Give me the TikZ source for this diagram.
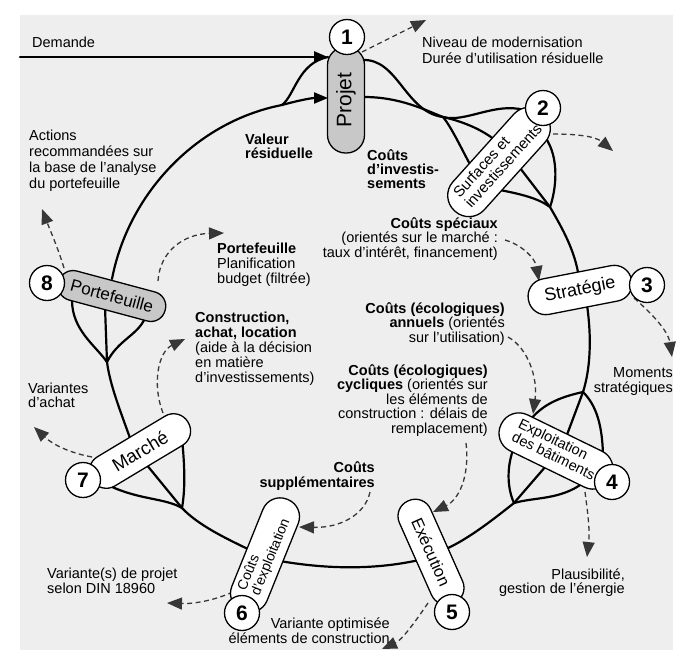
\documentclass[tikz,border=0pt]{standalone}
\usepackage{fontspec}
\setmainfont{Liberation Sans}
\usetikzlibrary{arrows.meta}
\pgfdeclarelayer{back}
\pgfdeclarelayer{lines}
\pgfsetlayers{back,lines,main}
\definecolor{bgc}{RGB}{238,238,238}
\definecolor{boxg}{RGB}{200,200,200}
\definecolor{dshc}{RGB}{55,55,55}
\newcommand{\twolines}[2]{\begin{tabular}{@{}l@{}}#1\\#2\end{tabular}}
\begin{document}
\begin{tikzpicture}[x=1pt,y=-1pt,
  trunk/.style={line width=2.2pt, black, line cap=round},
  arrowtip/.style={-{Triangle[length=14pt,width=11pt]}},
  dsh/.style={line width=1.3pt, dshc, dash pattern=on 5pt off 3.5pt, -{Triangle[length=15pt,width=12pt]}},
  lbl/.style={draw, line width=1.3pt, fill=white, rectangle, inner sep=1pt},
  numc/.style={draw, circle, line width=1.3pt, fill=white, minimum size=35pt, inner sep=0pt, font=\fontsize{21}{21}\selectfont\bfseries},
  txt/.style={inner sep=0pt, font=\fontsize{14.5}{15}\selectfont},
]
\useasboundingbox (0,0) rectangle (687,657);
\begin{pgfonlayer}{back}
\fill[bgc] (20,15) rectangle (673,650);
\end{pgfonlayer}

% ---------- boxes and numbered circles
\node[lbl, fill=boxg, rotate=90, minimum width=106pt, minimum height=37pt, rounded corners=18pt, font=\fontsize{21}{21}\selectfont] (projet) at (346,100) {Projet};
\node[numc] (n1) at (347,37) {1};
\node[lbl, rotate=48, minimum width=132pt, minimum height=42pt, rounded corners=20.5pt, inner sep=0pt, font=\fontsize{15}{15.5}\selectfont] (surf) at (499,162) {\twolines{Surfaces et}{investissements}};
\node[numc] (n2) at (543,108) {2};
\node[lbl, rotate=11, minimum width=105pt, minimum height=36pt, rounded corners=17.5pt, font=\fontsize{18}{18}\selectfont] (strat) at (580,290) {Stratégie};
\node[numc] (n3) at (647,285) {3};
\node[lbl, rotate=-26, minimum width=122pt, minimum height=40pt, rounded corners=19.5pt, inner sep=0pt, font=\fontsize{14.5}{15}\selectfont] (expl) at (556,451) {\twolines{Exploitation}{des bâtiments}};
\node[numc] (n4) at (612,482) {4};
\node[lbl, rotate=-66, minimum width=112pt, minimum height=34pt, rounded corners=16.5pt, font=\fontsize{16.5}{16.5}\selectfont] (exec) at (431,552) {Exécution};
\node[numc] (n5) at (452,612) {5};
\node[lbl, rotate=68, minimum width=120pt, minimum height=38pt, rounded corners=18.5pt, inner sep=0pt, font=\fontsize{14}{14.5}\selectfont] (cexp) at (265,555) {\twolines{Coûts}{d'exploitation}};
\node[numc] (n6) at (242,613) {6};
\node[lbl, rotate=31, minimum width=112pt, minimum height=34pt, rounded corners=16.5pt, font=\fontsize{18.5}{18.5}\selectfont] (marche) at (140,451) {Marché};
\node[numc] (n7) at (83,480) {7};
\node[lbl, fill=boxg, rotate=-15, minimum width=110pt, minimum height=30pt, rounded corners=14.5pt, font=\fontsize{17}{17}\selectfont] (portef) at (112,296) {Portefeuille};
\node[numc] (n8) at (47,283) {8};

% ---------- texts (base anchor = baseline of the last line)
\node[txt, anchor=base west] (tdem) at (32,47) {Demande};
\node[txt, anchor=base west, align=left, font=\fontsize{14.5}{16}\selectfont] (tniv) at (422,63) {Niveau de modernisation\\Durée d'utilisation résiduelle};
\node[txt, anchor=base west, align=left, font=\fontsize{14.5}{16}\selectfont] (tact) at (29,188) {Actions\\recommandées sur\\la base de l'analyse\\du portefeuille};
\node[txt, anchor=base west, align=left, font=\fontsize{14.5}{14.5}\selectfont\bfseries] (tval) at (245,158.5) {Valeur\\résiduelle};
\node[txt, anchor=base west, align=left, font=\fontsize{14.5}{14}\selectfont\bfseries] (tinv) at (367,188) {Coûts\\d'investis-\\sements};
\node[txt, anchor=base east, align=right, font=\fontsize{14.5}{14.5}\selectfont] (tspe) at (498,257) {\textbf{Coûts spéciaux}\\(orientés sur le marché :\\taux d'intérêt, financement)};
\node[txt, anchor=base east, align=right, font=\fontsize{14.5}{14.5}\selectfont] (tann) at (505,342) {\textbf{Coûts (écologiques)}\\\textbf{annuels} (orientés\\sur l'utilisation)};
\node[txt, anchor=base east, align=right, font=\fontsize{14.5}{14.5}\selectfont] (tcyc) at (488,433) {\textbf{Coûts (écologiques)}\\\textbf{cycliques} (orientés sur\\les éléments de\\construction : délais de\\remplacement)};
\node[txt, anchor=base east, align=right, font=\fontsize{14.5}{15}\selectfont\bfseries] (tsup) at (375,487) {Coûts\\supplémentaires};
\node[txt, anchor=base west, align=left] (tpor) at (217,283) {\textbf{Portefeuille}\\Planification\\budget (filtrée)};
\node[txt, anchor=base west, align=left] (tcon) at (195,382) {\textbf{Construction,}\\\textbf{achat, location}\\(aide à la décision\\en matière\\d'investissements)};
\node[txt, anchor=base west, align=left, font=\fontsize{14.5}{14}\selectfont] (tvar) at (28,407) {Variantes\\d'achat};
\node[txt, anchor=base east, align=right] (tmom) at (673,392) {Moments\\stratégiques};
\node[txt, anchor=base east, align=right, font=\fontsize{14.5}{14}\selectfont] (tpla) at (625,593) {Plausibilité,\\gestion de l'énergie};
\node[txt, anchor=base west, align=left] (tdin) at (47,593) {Variante(s) de projet\\selon DIN 18960};
\node[txt, anchor=base east, align=right, font=\fontsize{14.5}{13.5}\selectfont] (topt) at (390,643) {Variante optimisée\\éléments de construction};

% ---------- connector end points
\coordinate (dem) at (20,57);
\coordinate (pjL1) at (328,57);
\coordinate (pjL2) at (328,98);
\coordinate (pjR1) at (362,60);
\coordinate (pjR2) at (364,97);
\coordinate (a8top) at (112,279);
\coordinate (jA) at (282,105);
\coordinate (xr) at (443,117);
\coordinate (b2a) at (495,140);
\coordinate (b2b) at (524,110);
\coordinate (b2c) at (472,168);
\coordinate (e2a) at (545,137);
\coordinate (e2b) at (520,168);
\coordinate (e2c) at (500,190);
\coordinate (jB) at (550,207);
\coordinate (s3top) at (579,278);
\coordinate (s3bot) at (587,305);
\coordinate (jC) at (583,392);
\coordinate (e4a) at (531,419);
\coordinate (e4b) at (565,440);
\coordinate (e4c) at (603,460);
\coordinate (e4d) at (513,450);
\coordinate (e4e) at (546,466);
\coordinate (e4f) at (583,483);
\coordinate (jD) at (514,503);
\coordinate (e5a) at (446,549);
\coordinate (e5b) at (419,560);
\coordinate (e6a) at (280,561);
\coordinate (e6b) at (250,550);
\coordinate (jE) at (182,508);
\coordinate (e7a) at (182,438);
\coordinate (e7b) at (146,464);
\coordinate (e7c) at (110,486);
\coordinate (e7d) at (130,438);
\coordinate (jF) at (107,362);
\coordinate (e8a) at (72,300);
\coordinate (e8b) at (105,307);
\coordinate (e8c) at (145,318);
% dashed ends
\coordinate (d1s) at (362,52);   \coordinate (d1e) at (426,20);
\coordinate (d2s) at (553,134);  \coordinate (d2e) at (613,151);
\coordinate (d3s) at (634,298);  \coordinate (d3e) at (672,357);
\coordinate (d4s) at (585,492);  \coordinate (d4e) at (587,557);
\coordinate (d5s) at (428,603);  \coordinate (d5e) at (382,649);
\coordinate (d6s) at (233,592);  \coordinate (d6e) at (167,603);
\coordinate (d7s) at (92,457);   \coordinate (d7e) at (34,427);
\coordinate (d8s) at (64,268);   \coordinate (d8e) at (42,209);
\coordinate (d9s) at (158,281);  \coordinate (d9e) at (224,233);
\coordinate (d10s) at (163,413); \coordinate (d10e) at (185,339);
\coordinate (d11s) at (505,240); \coordinate (d11e) at (539,281);
\coordinate (d12s) at (508,337); \coordinate (d12e) at (533,414);
\coordinate (d13s) at (466,443); \coordinate (d13e) at (433,512);
\coordinate (d14s) at (370,492); \coordinate (d14e) at (299,527);

\begin{pgfonlayer}{lines}
\draw[trunk, line width=2.5pt, arrowtip] (dem) -- (pjL1);
\draw[trunk] (a8top) .. controls (128,195) and (195,122) .. (jA);
\draw[trunk, arrowtip] (jA) .. controls (300,100) and (312,98) .. (pjL2);
\draw[trunk] (jA) .. controls (295,95) and (298,63) .. (pjL1);
\draw[trunk] (pjR1) .. controls (398,58) and (405,112) .. (xr) .. controls (465,122) and (482,130) .. (b2a);
\draw[trunk] (pjR2) .. controls (400,97) and (425,110) .. (xr) .. controls (465,123) and (495,102) .. (b2b);
\draw[trunk] (xr) .. controls (452,128) and (462,150) .. (b2c);
\draw[trunk] (e2a) .. controls (560,158) and (556,190) .. (jB);
\draw[trunk] (e2b) -- (jB);
\draw[trunk] (e2c) .. controls (520,194) and (538,198) .. (jB);
\draw[trunk] (jB) .. controls (562,228) and (575,250) .. (s3top);
\draw[trunk] (s3bot) .. controls (592,340) and (590,370) .. (jC);
\draw[trunk] (jC) .. controls (565,396) and (545,402) .. (e4a);
\draw[trunk] (jC) -- (e4b);
\draw[trunk] (jC) .. controls (596,405) and (603,425) .. (e4c);
\draw[trunk] (e4d) .. controls (506,470) and (508,490) .. (jD);
\draw[trunk] (e4e) -- (jD);
\draw[trunk] (e4f) .. controls (560,500) and (535,497) .. (jD);
\draw[trunk] (jD) .. controls (495,518) and (470,538) .. (e5a);
\draw[trunk] (e5b) .. controls (370,571) and (320,568) .. (e6a);
\draw[trunk] (e6b) .. controls (225,538) and (198,525) .. (jE);
\draw[trunk] (jE) .. controls (186,485) and (184,460) .. (e7a);
\draw[trunk] (jE) -- (e7b);
\draw[trunk] (e7c) .. controls (140,500) and (165,498) .. (jE);
\draw[trunk] (e7d) .. controls (120,410) and (110,385) .. (jF);
\draw[trunk] (jF) .. controls (95,345) and (72,330) .. (e8a);
\draw[trunk] (jF) -- (e8b);
\draw[trunk] (jF) .. controls (118,340) and (138,335) .. (e8c);
% dashed
\draw[dsh] (d1s) -- (d1e);
\draw[dsh] (d2s) .. controls (575,134) and (595,136) .. (d2e);
\draw[dsh] (d3s) .. controls (650,312) and (668,330) .. (d3e);
\draw[dsh] (d4s) .. controls (588,515) and (590,530) .. (d4e);
\draw[dsh] (d5s) .. controls (415,622) and (402,640) .. (d5e);
\draw[dsh] (d6s) .. controls (215,600) and (195,604) .. (d6e);
\draw[dsh] (d7s) .. controls (65,452) and (50,442) .. (d7e);
\draw[dsh] (d8s) .. controls (58,248) and (50,230) .. (d8e);
\draw[dsh] (d9s) .. controls (160,250) and (185,234) .. (d9e);
\draw[dsh] (d10s) .. controls (152,385) and (158,352) .. (d10e);
\draw[dsh] (d11s) .. controls (522,245) and (535,258) .. (d11e);
\draw[dsh] (d12s) .. controls (528,348) and (538,378) .. (d12e);
\draw[dsh] (d13s) .. controls (470,478) and (458,500) .. (d13e);
\draw[dsh] (d14s) .. controls (365,515) and (340,528) .. (d14e);
\end{pgfonlayer}
\end{tikzpicture}
\end{document}
